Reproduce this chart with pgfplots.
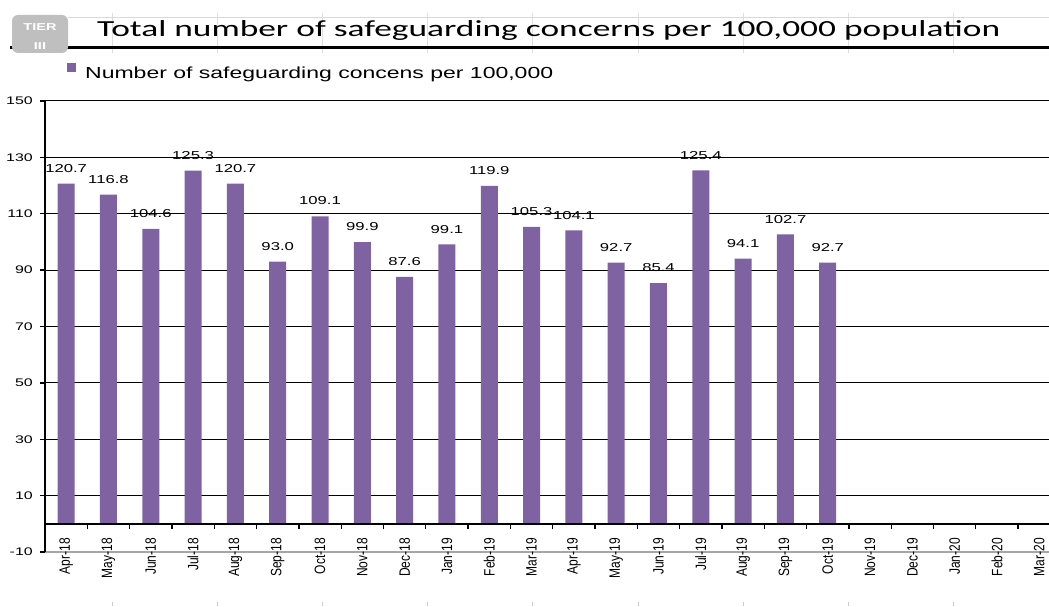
\documentclass[border=0pt]{standalone}
\usepackage{pgfplots}
\pgfplotsset{compat=1.18}
\usepackage{pgfplotstable}
\usepackage{graphicx}
\usepackage{fontspec}
\setmainfont{Liberation Sans}
\newfontfamily\titlefont{Carlito}
\definecolor{barcol}{RGB}{127,98,161}
\newcommand\sx[1]{\scalebox{1.45}[1]{#1}}
\newcommand\xl[1]{\scalebox{1}[1.25]{#1}}

\pgfplotstableread{
idx val
0 120.7
1 116.8
2 104.6
3 125.3
4 120.7
5 93.0
6 109.1
7 99.9
8 87.6
9 99.1
10 119.9
11 105.3
12 104.1
13 92.7
14 85.4
15 125.4
16 94.1
17 102.7
18 92.7
}\datatable

\begin{document}
\begin{tikzpicture}
\useasboundingbox (0pt,0pt) rectangle (1049pt,606pt);
% sheet cell marks
\foreach \k in {0,...,8} {\draw[gray!25, line width=0.8pt] ({112pt+105.2pt*\k},593pt) -- ({112pt+105.2pt*\k},553pt);}
\foreach \k in {0,...,8} {\draw[gray!40, line width=0.8pt] ({112pt+105.2pt*\k},0pt) -- ({112pt+105.2pt*\k},4pt);}
\draw[gray!30, line width=1pt] (68pt,588pt) -- (1049pt,588pt);
% title underline
\draw[black, line width=3pt] (10pt,558pt) -- (1049pt,558pt);
% tier icon
\fill[gray!50, rounded corners=6pt] (12pt,553pt) rectangle (68pt,591pt);
\node[white, inner sep=0pt, font=\bfseries\fontsize{10}{10}\selectfont] at (40pt,579pt) {\sx{TIER}};
\node[white, inner sep=0pt, font=\bfseries\fontsize{10}{10}\selectfont] at (40pt,560pt) {\sx{III}};
% title
\node[anchor=base west, inner sep=0pt] at (97pt,569pt) {\resizebox{903pt}{\height}{\titlefont\fontsize{23}{23}\selectfont Total number of safeguarding concerns per 100,000 population}};

\begin{axis}[
  at={(45pt,54pt)}, anchor=south west, scale only axis,
  width=1004pt, height=451pt,
  xmin=-0.5, xmax=23.23, ymin=-10, ymax=150,
  enlargelimits=false,
  ybar, bar width=17pt,
  axis lines*=left, axis line style={-},
  x axis line style={draw=gray!70, line width=1.3pt},
  y axis line style={draw=black, line width=1.5pt},
  ytick={10,30,...,150},
  extra y ticks={-10}, extra y tick labels={\sx{-10}}, extra y tick style={grid=none},
  ymajorgrids, grid style={black, line width=1pt},
  ytick align=outside, major tick length=5pt,
  y tick style={black, line width=1.3pt},
  xtick={0,...,23}, x tick style={draw=none},
  xticklabels={\xl{Apr-18},\xl{May-18},\xl{Jun-18},\xl{Jul-18},\xl{Aug-18},\xl{Sep-18},\xl{Oct-18},\xl{Nov-18},\xl{Dec-18},\xl{Jan-19},\xl{Feb-19},\xl{Mar-19},\xl{Apr-19},\xl{May-19},\xl{Jun-19},\xl{Jul-19},\xl{Aug-19},\xl{Sep-19},\xl{Oct-19},\xl{Nov-19},\xl{Dec-19},\xl{Jan-20},\xl{Feb-20},\xl{Mar-20}},
  xticklabel style={yshift=19pt, rotate=90, anchor=east, inner sep=0pt, font=\fontsize{12}{12}\selectfont},
  /pgf/number format/assume math mode=true,
  yticklabel={\sx{\pgfmathprintnumber{\tick}}},
  yticklabel style={font=\fontsize{11}{11}\selectfont, inner sep=0pt, anchor=east, xshift=-7pt},
  nodes near coords={\sx{\pgfmathprintnumber[fixed,fixed zerofill,precision=1]{\pgfplotspointmeta}}},
  nodes near coords style={font=\fontsize{11.5}{11.5}\selectfont, anchor=south, inner sep=0pt, yshift=11pt, black},
  legend style={at={(axis description cs:0.0219,1.0652)}, anchor=west, draw=none, fill=none, inner sep=0pt, nodes={inner sep=0pt}},
  legend cell align=left,
  legend image code/.code={\fill[barcol] (0pt,1.2pt) rectangle (9pt,10.2pt);},
  clip=false,
]
\addplot[fill=barcol, draw=none] table[x=idx,y=val]{\datatable};
\addlegendentry{\hspace{9pt}\resizebox{468pt}{\height}{\fontsize{16}{16}\selectfont Number of safeguarding concens per 100,000}}
\draw[black, line width=1.5pt] (axis cs:-0.5,0) -- (axis cs:23.23,0);
\pgfplotsinvokeforeach{0,...,22}{\draw[black, line width=1.3pt] (axis cs:#1.5,0) -- ++(0pt,-5pt);}
\end{axis}
\end{tikzpicture}
\end{document}
